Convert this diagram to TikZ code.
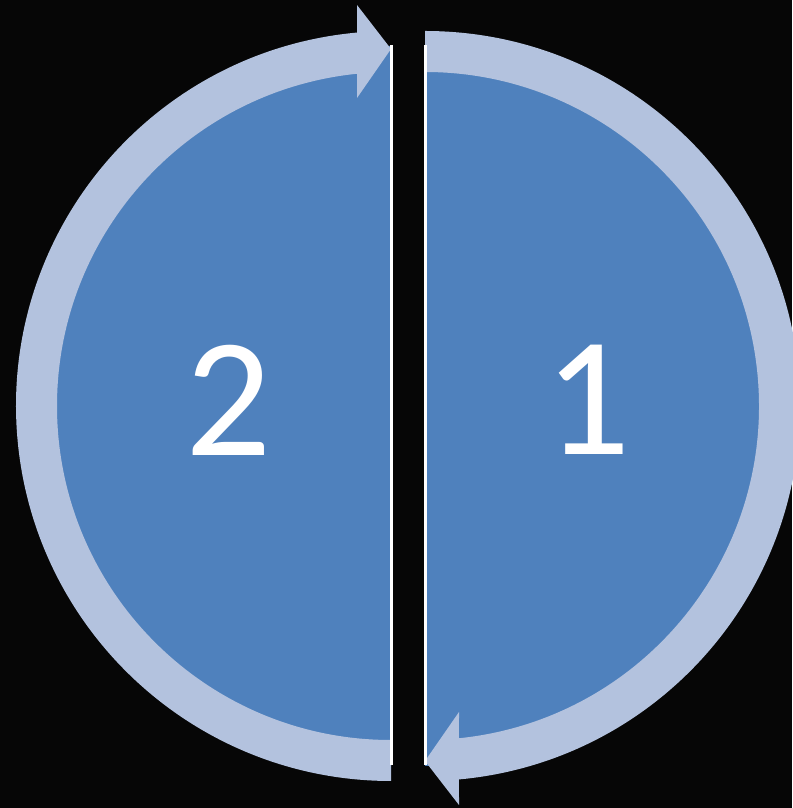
\documentclass[tikz,border=0pt]{standalone}
\usepackage{fontspec}
\setmainfont{Carlito}
\usetikzlibrary{calc}
\definecolor{bgc}{RGB}{6,6,6}
\definecolor{halfblue}{RGB}{79,129,189}
\definecolor{bandblue}{RGB}{179,194,222}
\tikzset{
  half/.style={fill=halfblue},
  band/.style={fill=bandblue},
  edge/.style={draw=white, line width=3pt},
  digit/.style={text=white, inner sep=0pt, font=\fontsize{170}{170}\selectfont}
}
\begin{document}
\begin{tikzpicture}[x=1pt,y=1pt]
\useasboundingbox (0,0) rectangle (792,808);
\fill[bgc] (0,0) rectangle (792,808);
\coordinate (cl) at (391,402);
\coordinate (cr) at (425,402);
% blue halves
\fill[half] (391,42) arc[start angle=270, end angle=90, radius=360pt] -- cycle;
\fill[half] (425,762) arc[start angle=90, end angle=-90, radius=360pt] -- cycle;
% left band with arrow at top
\fill[band] (391,27) -- (391,68) arc[start angle=270, end angle=95.84, radius=334pt]
  -- (357,710) -- (391,759) -- (357,803) -- ($(cl)+(95.2:375pt)$)
  arc[start angle=95.2, end angle=270, radius=375pt] -- cycle;
% right band with arrow at bottom
\fill[band] (425,777) arc[start angle=90, end angle=-84.8, radius=375pt]
  -- (459,3) -- (425,47) -- (459,96) -- ($(cr)+(-84.16:334pt)$)
  arc[start angle=-84.16, end angle=90, radius=334pt] -- cycle;
% white straight edges
\coordinate (l1) at (391,43);
\coordinate (l2) at (391,763);
\coordinate (r1) at (425,43);
\coordinate (r2) at (425,763);
\draw[edge] (l1) -- (l2);
\draw[edge] (r1) -- (r2);
% labels
\node[digit] (two) at (229,408) {2};
\node[digit] (one) at (588,408) {1};
\end{tikzpicture}
\end{document}
